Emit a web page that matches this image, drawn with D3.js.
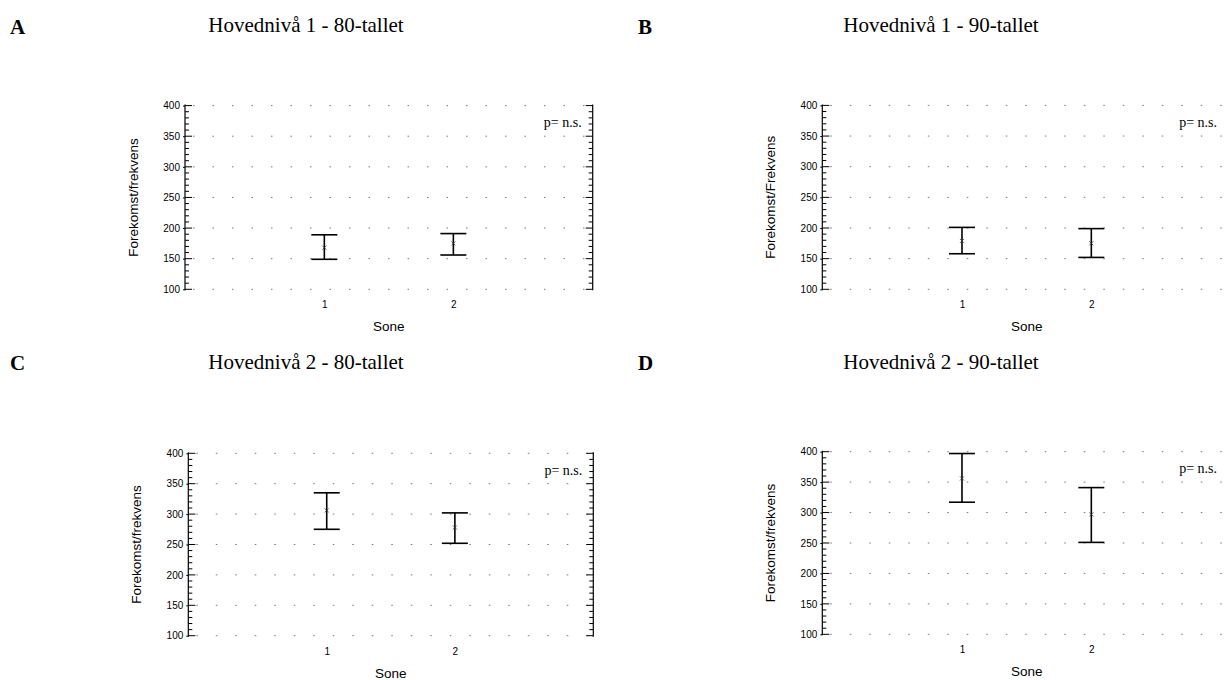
<!DOCTYPE html>
<html>
<head>
<meta charset="utf-8">
<script src="https://cdn.jsdelivr.net/npm/d3@7"></script>
<style>
  html, body { margin: 0; padding: 0; background: #fff; }
  svg { display: block; }
</style>
</head>
<body>
<svg id="chart" width="1224" height="680"></svg>
<script>
// ---------- data ----------
const panelLetters = ["A", "B", "C", "D"];
const panelTitles = [
  "Hovednivå 1 - 80-tallet",
  "Hovednivå 1 - 90-tallet",
  "Hovednivå 2 - 80-tallet",
  "Hovednivå 2 - 90-tallet"
];
const yAxisLabels = [
  "Forekomst/frekvens",
  "Forekomst/Frekvens",
  "Forekomst/frekvens",
  "Forekomst/frekvens"
];
const xAxisLabel = "Sone";
const pText = "p= n.s.";
const categories = [1, 2];
const yTicks = [100, 150, 200, 250, 300, 350, 400];

// mean, lower and upper limit per zone (1, 2)
const meanA = [168, 175];
const lowA  = [149, 156];
const highA = [189, 191];

const meanB = [179, 175];
const lowB  = [158, 152];
const highB = [201, 199];

const meanC = [306, 278];
const lowC  = [275, 252];
const highC = [335, 302];

const meanD = [356, 297];
const lowD  = [317, 251];
const highD = [397, 341];

const means = [meanA, meanB, meanC, meanD];
const lows  = [lowA, lowB, lowC, lowD];
const highs = [highA, highB, highC, highD];

// ---------- layout ----------
const layout = [
  { left: 185,   right: 592.7, top: 105.6, bottom: 289.3, letterX: 10,  letterY: 34,  titleX: 306, titleY: 32 },
  { left: 822.3, right: 1231,  top: 105.4, bottom: 289.3, letterX: 638, letterY: 34,  titleX: 941, titleY: 32 },
  { left: 188.3, right: 593.3, top: 453.3, bottom: 635.7, letterX: 10,  letterY: 370, titleX: 306, titleY: 369 },
  { left: 822.3, right: 1231,  top: 451.7, bottom: 634.3, letterX: 638, letterY: 370, titleX: 941, titleY: 369 }
];

const svg = d3.select("#chart");
const sans = "'Liberation Sans', Arial, Helvetica, sans-serif";
const serif = "'Liberation Serif', 'Times New Roman', Times, serif";

panelLetters.forEach((letter, i) => {
  const L = layout[i];
  const x = d3.scaleLinear().domain([-0.08, 3.08]).range([L.left, L.right]);
  const y = d3.scaleLinear().domain([100, 400]).range([L.bottom, L.top]);
  const g = svg.append("g");

  // panel letter
  svg.append("text")
    .attr("x", L.letterX).attr("y", L.letterY)
    .attr("font-family", serif).attr("font-weight", "bold").attr("font-size", 21)
    .text(letter);

  // title
  svg.append("text")
    .attr("x", L.titleX).attr("y", L.titleY)
    .attr("text-anchor", "middle")
    .attr("font-family", serif).attr("font-size", 21)
    .text(panelTitles[i]);

  // dotted grid lines
  g.append("g").selectAll("line").data(yTicks).join("line")
    .attr("x1", L.left + 8).attr("x2", L.right - 4)
    .attr("y1", d => y(d)).attr("y2", d => y(d))
    .attr("stroke", "#777").attr("stroke-width", 1)
    .attr("stroke-dasharray", "1.5,18");

  // left axis (ticks inward)
  const minor = d3.range(100, 401, 10);
  const leftAxis = g.append("g").attr("transform", `translate(${L.left},0)`);
  leftAxis.append("line").attr("y1", y(400) - 1).attr("y2", y(100) + 1)
    .attr("stroke", "#000").attr("stroke-width", 1.2);
  leftAxis.selectAll("line.minor").data(minor).join("line").attr("class", "minor")
    .attr("x1", 0).attr("x2", d => (d % 50 === 0 ? 7 : 4))
    .attr("y1", d => y(d)).attr("y2", d => y(d))
    .attr("stroke", "#000").attr("stroke-width", 1);
  const ax = d3.axisLeft(y).tickValues(yTicks).tickSize(2).tickPadding(3);
  const axG = leftAxis.append("g").call(ax);
  axG.select(".domain").remove();
  axG.selectAll("text").attr("font-family", sans).attr("font-size", 10).attr("fill", "#000");

  // right axis (ticks inward, no labels)
  const rightAxis = g.append("g").attr("transform", `translate(${L.right},0)`);
  rightAxis.append("line").attr("y1", y(400) - 1).attr("y2", y(100) + 1)
    .attr("stroke", "#000").attr("stroke-width", 1.2);
  rightAxis.selectAll("line.minor").data(minor).join("line").attr("class", "minor")
    .attr("x1", 0).attr("x2", d => (d % 50 === 0 ? -7 : -4))
    .attr("y1", d => y(d)).attr("y2", d => y(d))
    .attr("stroke", "#000").attr("stroke-width", 1);

  // x tick labels
  const xa = d3.axisBottom(x).tickValues(categories).tickSize(0).tickPadding(0).tickFormat(d3.format("d"));
  const xg = g.append("g").attr("transform", `translate(0,${L.bottom + 19})`).call(xa);
  xg.select(".domain").remove();
  xg.selectAll("text").attr("font-family", sans).attr("font-size", 10).attr("fill", "#000").attr("dy", 0);

  // axis titles
  g.append("text")
    .attr("x", (L.left + L.right) / 2).attr("y", L.bottom + 42)
    .attr("text-anchor", "middle")
    .attr("font-family", sans).attr("font-size", 13.5)
    .text(xAxisLabel);
  g.append("text")
    .attr("transform", `translate(${L.left - 47},${(L.top + L.bottom) / 2}) rotate(-90)`)
    .attr("text-anchor", "middle")
    .attr("font-family", sans).attr("font-size", 13.5)
    .text(yAxisLabels[i]);

  // p-value text
  g.append("text")
    .attr("x", Math.min(L.right - 11, 1217)).attr("y", y(373) + 5)
    .attr("text-anchor", "end")
    .attr("font-family", serif).attr("font-size", 14)
    .text(pText);

  // error bars
  const rows = categories.map((c, k) => ({ c, m: means[i][k], lo: lows[i][k], hi: highs[i][k] }));
  const eb = g.append("g").selectAll("g").data(rows).join("g");
  const capW = 13;
  eb.append("line")
    .attr("x1", d => x(d.c)).attr("x2", d => x(d.c))
    .attr("y1", d => y(d.hi)).attr("y2", d => y(d.lo))
    .attr("stroke", "#000").attr("stroke-width", 1.6);
  eb.append("line")
    .attr("x1", d => x(d.c) - capW).attr("x2", d => x(d.c) + capW)
    .attr("y1", d => y(d.hi)).attr("y2", d => y(d.hi))
    .attr("stroke", "#000").attr("stroke-width", 1.6);
  eb.append("line")
    .attr("x1", d => x(d.c) - capW).attr("x2", d => x(d.c) + capW)
    .attr("y1", d => y(d.lo)).attr("y2", d => y(d.lo))
    .attr("stroke", "#000").attr("stroke-width", 1.6);
  eb.append("path")
    .attr("d", d => `M${x(d.c) - 2},${y(d.m) - 2}L${x(d.c) + 2},${y(d.m) + 2}M${x(d.c) - 2},${y(d.m) + 2}L${x(d.c) + 2},${y(d.m) - 2}`)
    .attr("stroke", "#333").attr("stroke-width", 0.8);
});
</script>
</body>
</html>
